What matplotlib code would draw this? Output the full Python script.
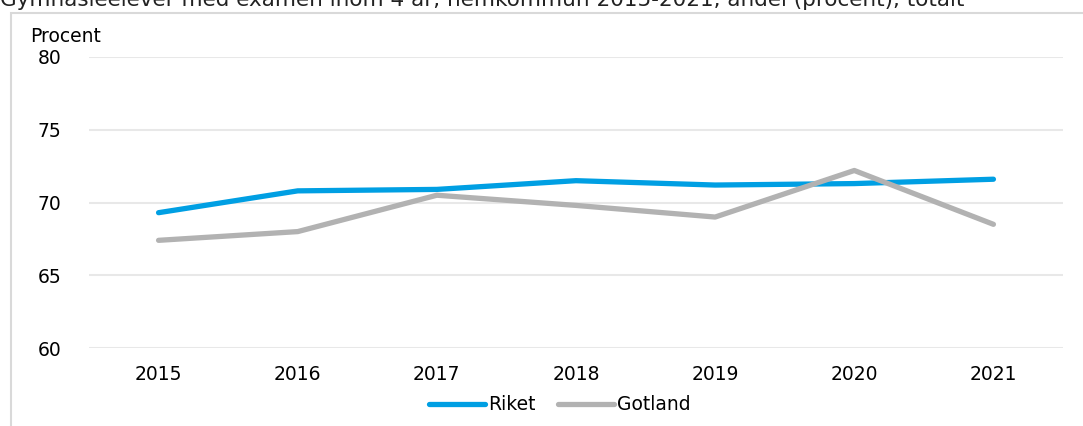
import matplotlib.pyplot as plt
from matplotlib.patches import Rectangle

years = ['2015', '2016', '2017', '2018', '2019', '2020', '2021']
riket = [69.3, 70.8, 70.9, 71.5, 71.2, 71.3, 71.6]
gotland = [67.4, 68.0, 70.5, 69.8, 69.0, 72.2, 68.5]

title = 'Gymnasieelever med examen inom 4 år, hemkommun 2015-2021, andel (procent), totalt'

plt.rcParams['font.family'] = ['DejaVu Sans']

fig = plt.figure(figsize=(10.83, 4.26), dpi=100)
ax = fig.add_axes([89 / 1083, 1 - 348 / 426, (1063 - 89) / 1083, (348 - 57) / 426])

# chart frame, cut at the right and bottom like the reference
fig.patches.append(Rectangle((10.5 / 1083, -0.1), 1.2, 1 - 12.5 / 426 + 0.1,
                             transform=fig.transFigure, fill=False,
                             edgecolor='#d9d9d9', linewidth=1.5))

x = range(len(years))
ax.plot(x, riket, color='#009fe3', linewidth=3.8, solid_capstyle='round', label='Riket')
ax.plot(x, gotland, color='#b2b2b2', linewidth=3.8, solid_capstyle='round', label='Gotland')

ax.set_xlim(-0.5, len(years) - 0.5)
ax.set_ylim(60, 80)
ax.set_yticks([60, 65, 70, 75, 80])
ax.set_xticks(list(x))
ax.set_xticklabels(years)
ax.grid(axis='y', color='#e8e8e8', linewidth=1.5)
ax.set_axisbelow(True)
for s in ax.spines.values():
    s.set_visible(False)
ax.tick_params(axis='both', length=0, labelsize=13.5, colors='black')
ax.tick_params(axis='y', pad=20)
ax.tick_params(axis='x', pad=12)

fig.text(30 / 1083, 1 - 42 / 426, 'Procent', fontsize=13.5, va='baseline')
# the reference shows the title cut at the top edge
fig.text(0, 1 - 6 / 426, title, fontsize=15.5, va='baseline', color='#222222')

fig.legend(loc='center', bbox_to_anchor=(560 / 1083, 1 - 405 / 426), ncol=2,
           frameon=False, fontsize=13.5, handlelength=3.0, handletextpad=0.15,
           columnspacing=1.2, borderpad=0)

fig.savefig('out.png', dpi=100)
